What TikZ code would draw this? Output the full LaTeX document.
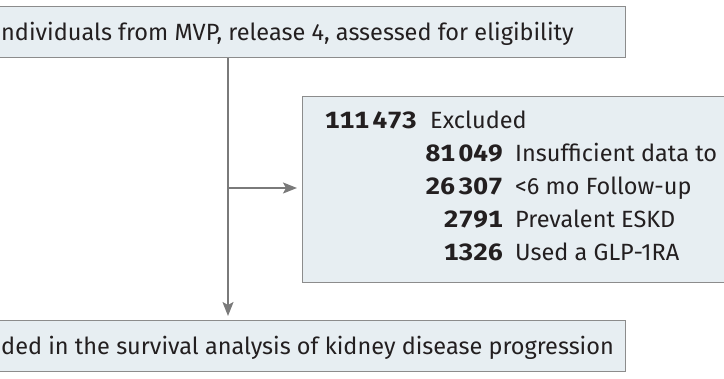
\documentclass[tikz,border=0pt]{standalone}
\usepackage{fontspec}
\setmainfont{Fira Sans}
\usepackage{tikz}
\usetikzlibrary{arrows.meta,calc}

\definecolor{boxfill}{HTML}{E7EEF2}
\definecolor{boxline}{HTML}{8C8C8C}
\definecolor{flowline}{HTML}{7A7A7A}
\definecolor{ink}{HTML}{231F20}

\tikzset{
	box/.style={draw=boxline,fill=boxfill,line width=1.3pt,rectangle,inner sep=0pt},
	txt/.style={text=ink,inner sep=0pt,font=\fontsize{23.5}{28}\selectfont},
	num/.style={txt,font=\fontsize{23.5}{28}\selectfont\bfseries\addfontfeature{Numbers=Monospaced,FakeStretch=1.12}},
	flow/.style={draw=flowline,line width=1.3pt},
}

\begin{document}
\begin{tikzpicture}[x={(1pt,0)},y={(0,-1pt)},>={Stealth[length=14pt,width=11pt,inset=3pt]}]
			\useasboundingbox (0,0) rectangle (724,379);
			\clip (0,0) rectangle (724,379);
			
			\coordinate (split) at (228,188);
			
			\node[box,anchor=north east,minimum width=900,minimum height=51] (elig) at (626,6) {};
			\node[txt,anchor=base west] (eligtxt) at (1,41) {ndividuals from MVP, release 4, assessed for eligibility};
			
			\node[box,anchor=north west,minimum width=520,minimum height=186] (excl) at (302,96) {};
			\node[num,anchor=base east] (excln) at (417,129) {111\kern3.5pt473};
			\node[txt,anchor=base west] (excltxt) at (430,129) {Excluded};
			\foreach \n/\t [count=\i] in {81\kern3.5pt049/Insufficient data to,26\kern3.5pt307/{<6 mo Follow-up},2791/Prevalent ESKD,1326/Used a GLP-1RA}{
				\node[num,anchor=base east] (why\i n) at (503,{129+33*\i}) {\n};
				\node[txt,anchor=base west] (why\i) at (515,{129+33*\i}) {\t};
			}
			
			\node[box,anchor=north east,minimum width=900,minimum height=51] (incl) at (626,320) {};
			\node[txt,anchor=base west] (incltxt) at (1,355) {ded in the survival analysis of kidney disease progression};
			
			\draw[flow,->,shorten >=4pt] (elig.south -| split) -- (incl.north -| split);
			\draw[flow,->,shorten >=5pt] (split) -- (excl.west |- split);
		\end{tikzpicture}
\end{document}
